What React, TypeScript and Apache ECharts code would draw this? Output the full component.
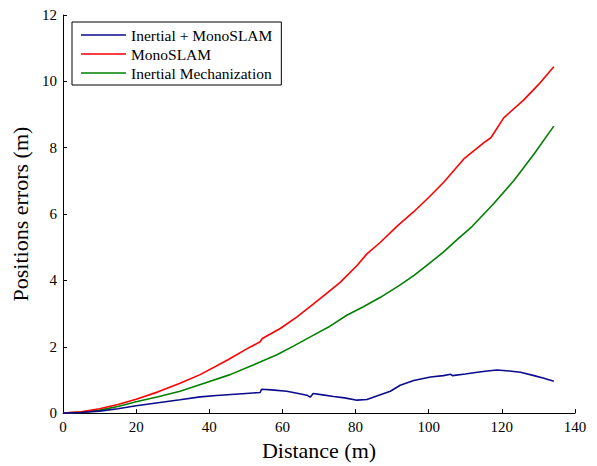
import React, { useEffect, useRef } from "react";
import * as echarts from "echarts";

const xTicks = { min: 0, max: 140, interval: 20 };
const yTicks = { min: 0, max: 12, interval: 2 };

const seriesNames = ["Inertial + MonoSLAM", "MonoSLAM", "Inertial Mechanization"];

const blueX = [0, 5, 10, 15, 20, 26, 32, 37.5, 42, 47, 51, 53.9, 54.3, 57, 61.2, 64, 66.7, 67.6, 68.4, 71, 74, 77, 80.4, 83.1, 86, 89.5, 92.2, 95.9, 100.5, 104, 106, 106.5, 110, 113.3, 116, 118.7, 122, 125.1, 128.8, 131.5, 134.2];
const blueY = [0, 0.02, 0.06, 0.13, 0.22, 0.31, 0.4, 0.49, 0.53, 0.57, 0.6, 0.62, 0.72, 0.7, 0.66, 0.6, 0.54, 0.48, 0.59, 0.55, 0.5, 0.46, 0.39, 0.41, 0.52, 0.66, 0.84, 0.98, 1.09, 1.13, 1.17, 1.13, 1.18, 1.23, 1.27, 1.3, 1.27, 1.23, 1.13, 1.05, 0.96];

const redX = [0, 5, 10, 15, 20, 26, 32, 37.5, 45, 50, 53.9, 54.5, 59.4, 64, 68.5, 72, 75.8, 80.4, 83.1, 86.8, 91.3, 95.9, 100, 104.1, 109.6, 115.1, 117, 120.5, 126, 130, 134.2];
const redY = [0, 0.04, 0.13, 0.26, 0.42, 0.64, 0.9, 1.16, 1.6, 1.92, 2.15, 2.25, 2.55, 2.9, 3.29, 3.6, 3.94, 4.45, 4.8, 5.15, 5.63, 6.07, 6.5, 6.96, 7.66, 8.15, 8.3, 8.9, 9.44, 9.9, 10.44];

const greenX = [0, 5, 10, 15, 20, 26, 32, 38, 45.7, 52, 58.5, 63, 68.5, 73, 77.6, 82, 86.8, 92, 96, 100, 104, 108, 111.9, 117.8, 123.3, 128.8, 134.2];
const greenY = [0, 0.03, 0.09, 0.2, 0.34, 0.49, 0.66, 0.88, 1.16, 1.45, 1.76, 2.02, 2.35, 2.62, 2.95, 3.2, 3.49, 3.85, 4.15, 4.5, 4.85, 5.25, 5.63, 6.32, 7.01, 7.81, 8.65];

const colors = ["#0b0b8e", "#ff0000", "#008000"];

const pairs = (xs: number[], ys: number[]) => xs.map((x, i) => [x, ys[i]]);

const FONT = "'Liberation Serif', 'Times New Roman', serif";
const LINE_ICON = "path://M0,0 L45,0 L45,1.6 L0,1.6 Z";

export default function App() {
  const ref = useRef<HTMLDivElement>(null);
  useEffect(() => {
    document.body.style.margin = "0";
    const chart = echarts.init(ref.current!, undefined, { renderer: "svg" });
    const data = [pairs(blueX, blueY), pairs(redX, redY), pairs(greenX, greenY)];
    chart.setOption({
      animation: false,
      backgroundColor: "#ffffff",
      grid: { left: 63, right: 22, top: 15, bottom: 47, containLabel: false },
      legend: {
        orient: "vertical",
        left: 72,
        top: 22,
        padding: [4, 9, 3, 9],
        itemWidth: 45,
        itemHeight: 12,
        itemGap: 1,
        icon: LINE_ICON,
        symbolKeepAspect: true,
        backgroundColor: "#ffffff",
        borderColor: "#000000",
        borderWidth: 1,
        borderRadius: 0,
        data: seriesNames,
        textStyle: { fontFamily: FONT, fontSize: 15.5, color: "#000", lineHeight: 18 },
      },
      xAxis: {
        type: "value",
        min: xTicks.min,
        max: xTicks.max,
        interval: xTicks.interval,
        name: "Distance (m)",
        nameLocation: "middle",
        nameGap: 21,
        nameTextStyle: { fontFamily: FONT, fontSize: 22, color: "#000" },
        axisLine: { lineStyle: { color: "#000", width: 1 } },
        axisTick: { inside: true, length: 4, lineStyle: { color: "#000" } },
        axisLabel: { fontFamily: FONT, fontSize: 15, color: "#000", margin: 6 },
        splitLine: { show: false },
      },
      yAxis: {
        type: "value",
        min: yTicks.min,
        max: yTicks.max,
        interval: yTicks.interval,
        name: "Positions errors (m)",
        nameLocation: "middle",
        nameGap: 27,
        nameTextStyle: { fontFamily: FONT, fontSize: 22, color: "#000" },
        axisLine: { show: true, lineStyle: { color: "#000", width: 1 } },
        axisTick: { show: true, inside: true, length: 4, lineStyle: { color: "#000" } },
        axisLabel: { fontFamily: FONT, fontSize: 15, color: "#000", margin: 6 },
        splitLine: { show: false },
      },
      series: seriesNames.map((name, i) => ({
        name,
        type: "line",
        data: data[i],
        symbol: "none",
        showSymbol: false,
        smooth: false,
        z: 3 - i,
        color: colors[i],
        itemStyle: { color: colors[i] },
        lineStyle: { color: colors[i], width: 1.6 },
      })),
    });
    return () => chart.dispose();
  }, []);
  return <div ref={ref} style={{ width: 597, height: 466 }} />;
}
